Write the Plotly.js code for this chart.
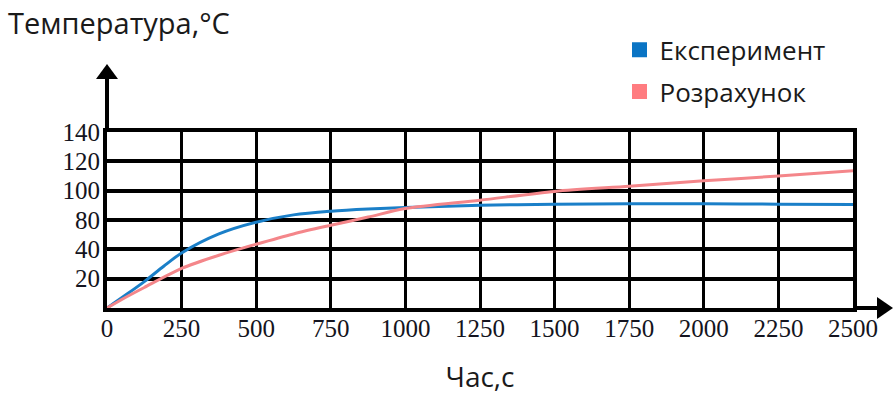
<!DOCTYPE html>
<html>
<head>
<meta charset="utf-8">
<script src="https://cdn.plot.ly/plotly-3.0.1.min.js"></script>
<style>html,body{margin:0;padding:0;background:#fff;}#chart{width:894px;height:408px;}</style>
</head>
<body>
<div id="chart"></div>
<script>
// Time, s
const timeExp = [0, 60, 125, 190, 250, 375, 500, 625, 750, 875, 1000, 1250, 1500, 1750, 2000, 2250, 2500];
// Experiment (values in the chart's evenly spaced grid units: positions 20..120 carry labels 20,40,80,100,120,140)
const tempExp = [0, 8.5, 18, 28.5, 37.5, 50.5, 58.5, 63.5, 66, 67.5, 68.5, 70, 70.8, 71, 71, 70.8, 70.6];
const timeCalc = [0, 60, 125, 250, 375, 500, 625, 750, 875, 1000, 1250, 1500, 1750, 2000, 2250, 2500];
const tempCalc = [0, 7, 14, 27, 36, 43.5, 50.5, 56.4, 62, 67.8, 73.5, 79.5, 83, 86.7, 90, 93.5];
const xTickVals = [0, 250, 500, 750, 1000, 1250, 1500, 1750, 2000, 2250, 2500];
const yTickVals = [20, 40, 60, 80, 100, 120];
const yTickText = ['20', '40', '80', '100', '120', '140'];
const seriesNames = ['Експеримент', 'Розрахунок'];
const colors = ['#1a7fc8', '#f4868a'];

const traces = [
  {x: timeExp, y: tempExp, mode: 'lines', line: {color: colors[0], width: 3, shape: 'spline', smoothing: 0.9}, showlegend: false, hoverinfo: 'skip'},
  {x: timeCalc, y: tempCalc, mode: 'lines', line: {color: colors[1], width: 3, shape: 'spline', smoothing: 0.8}, showlegend: false, hoverinfo: 'skip'},
  {x: [null], y: [null], name: seriesNames[0], mode: 'markers', legendgroup: 'a', marker: {symbol: 'square', size: 15, color: '#0a74c4'}},
  {x: [null], y: [null], name: seriesNames[1], mode: 'markers', legendgroup: 'b', marker: {symbol: 'square', size: 15, color: '#ff7c80'}}
];

const W = 746, H = 175.7;
const layout = {
  width: 894, height: 408,
  margin: {l: 107, r: 41, t: 132, b: 100.3},
  paper_bgcolor: '#fff', plot_bgcolor: '#fff',
  font: {family: 'Liberation Serif', color: '#1c1c28'},
  title: {text: 'Температура,°C', x: 8/894, xanchor: 'left', xref: 'container', y: 1 - 24/408, yanchor: 'middle', yref: 'container',
          font: {family: 'Open Sans', size: 29, weight: 500, color: '#1a1a1a'}},
  xaxis: {
    range: [0, 2500], tickvals: xTickVals, ticks: '', showgrid: true, gridcolor: '#000', gridwidth: 3,
    showline: true, mirror: true, linecolor: '#000', linewidth: 4, zeroline: false,
    tickfont: {family: 'Liberation Serif', size: 25, color: '#141420'},
    ticklabelstandoff: -5,
    title: {text: 'Час,с', standoff: 27, font: {family: 'Open Sans', size: 28, color: '#1a1a1a'}},
    fixedrange: true
  },
  yaxis: {
    range: [0, 120], tickvals: yTickVals, ticktext: yTickText, ticks: '', showgrid: true, gridcolor: '#000', gridwidth: 4,
    showline: true, mirror: true, linecolor: '#000', linewidth: 4, zeroline: false,
    tickfont: {family: 'Liberation Serif', size: 25, color: '#141420'},
    ticklabelstandoff: -2,
    fixedrange: true
  },
  showlegend: true,
  legend: {x: 0.687, xanchor: 'left', y: 1.6, yanchor: 'top', traceorder: 'grouped', tracegroupgap: 5,
           font: {family: 'Open Sans', size: 26, color: '#1a1a1a'}, bgcolor: 'rgba(0,0,0,0)'},
  shapes: [
    {type: 'line', xref: 'paper', yref: 'paper', x0: 0, x1: 0, y0: 1, y1: (307.7 - 78) / H, line: {color: '#000', width: 4}},
    {type: 'path', xref: 'paper', yref: 'paper', fillcolor: '#000', line: {width: 0},
     path: `M ${-11/W} ${(307.7-79)/H} L 0 ${(307.7-64)/H} L ${11/W} ${(307.7-79)/H} Z`},
    {type: 'line', xref: 'paper', yref: 'paper', x0: 1, x1: (878 - 107) / W, y0: 0, y1: 0, line: {color: '#000', width: 4}},
    {type: 'path', xref: 'paper', yref: 'paper', fillcolor: '#000', line: {width: 0},
     path: `M ${(877-107)/W} ${11/H} L ${(893-107)/W} 0 L ${(877-107)/W} ${-11/H} Z`}
  ]
};

Plotly.newPlot('chart', traces, layout, {displayModeBar: false, staticPlot: true});
</script>
</body>
</html>
